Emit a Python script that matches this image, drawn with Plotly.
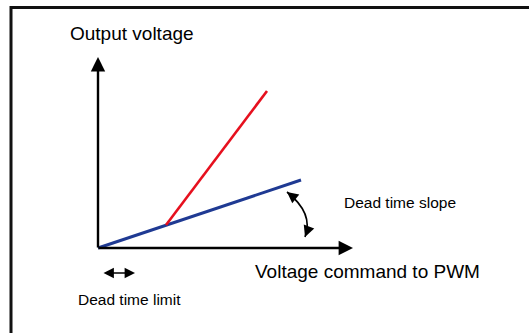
import plotly.graph_objects as go

# Conceptual units: voltage command (x) vs output voltage (y), origin at axes crossing
cmd_ideal = [0, 68, 203]          # dead-time compensated branch (blue)
out_ideal = [0, 23, 68]
cmd_steep = [68, 169]             # steep branch above the dead-time limit (red)
out_steep = [23, 157]

x_axis_end = 255
y_axis_end = 191

slope_arc_start = (189, 56)
slope_arc_ctrl = (216, 34.5)
slope_arc_end = (207, 11)

limit_span = (4, 37)
limit_level = -25

labels = {
    "y_title": "Output voltage",
    "x_title": "Voltage command to PWM",
    "slope": "Dead time slope",
    "limit": "Dead time limit",
}

fig = go.Figure()

fig.add_trace(go.Scatter(x=cmd_ideal, y=out_ideal, mode="lines",
                         line=dict(color="#1f3a93", width=3), hoverinfo="skip"))
fig.add_trace(go.Scatter(x=cmd_steep, y=out_steep, mode="lines",
                         line=dict(color="#e6101e", width=2.6), hoverinfo="skip"))

annotations = []

def arrow(x, y, ax, ay, width=2.4, size=1.2, side="end"):
    annotations.append(dict(x=x, y=y, ax=ax, ay=ay, xref="x", yref="y",
                            axref="x", ayref="y", text="", showarrow=True,
                            arrowhead=2, arrowsize=size, arrowwidth=width,
                            arrowcolor="black", arrowside=side,
                            font=dict(size=1)))

# axes with arrowheads
arrow(x_axis_end, 0, -1, 0)
arrow(0, y_axis_end, 0, -1)

# double arrow marking the dead-time limit
arrow(limit_span[1], limit_level, limit_span[0], limit_level, width=1.6, size=1.3,
      side="end+start")

# arrowheads of the slope arc
def arc_head(tip, ctrl, length=9):
    dx, dy = ctrl[0] - tip[0], ctrl[1] - tip[1]
    n = (dx * dx + dy * dy) ** 0.5
    arrow(tip[0], tip[1], tip[0] + dx / n * length, tip[1] + dy / n * length,
          width=1.6, size=1.4)

arc_head(slope_arc_start, slope_arc_ctrl)
arc_head(slope_arc_end, slope_arc_ctrl)

def label(txt, x, y, size):
    annotations.append(dict(x=x, y=y, xref="x", yref="y", text=txt, showarrow=False,
                            xanchor="left", yanchor="middle",
                            font=dict(family="Liberation Sans, Arial", size=size,
                                      color="black")))

label(labels["y_title"], -30, 214.5, 19)
label(labels["x_title"], 155, -23, 19)
label(labels["slope"], 244, 45.5, 15.5)
label(labels["limit"], -22, -51.5, 15.5)

shapes = [
    dict(type="path", xref="x", yref="y",
         path=f"M{slope_arc_start[0]},{slope_arc_start[1]} "
              f"Q{slope_arc_ctrl[0]},{slope_arc_ctrl[1]} {slope_arc_end[0]},{slope_arc_end[1]}",
         line=dict(color="black", width=1.6)),
    # frame (top and left edges)
    dict(type="line", xref="paper", yref="paper", x0=11 / 529, x1=1,
         y0=1 - 7.5 / 333, y1=1 - 7.5 / 333, line=dict(color="#111111", width=3)),
    dict(type="line", xref="paper", yref="paper", x0=11 / 529, x1=11 / 529,
         y0=0, y1=1 - 6 / 333, line=dict(color="#111111", width=3)),
]

fig.update_layout(
    width=529, height=333,
    margin=dict(l=0, r=0, t=0, b=0),
    paper_bgcolor="white", plot_bgcolor="white",
    showlegend=False,
    annotations=annotations,
    shapes=shapes,
    xaxis=dict(range=[-98, 431], visible=False, fixedrange=True),
    yaxis=dict(range=[-85, 248], visible=False, fixedrange=True),
)

fig.write_html("out.html", config={"displayModeBar": False})
